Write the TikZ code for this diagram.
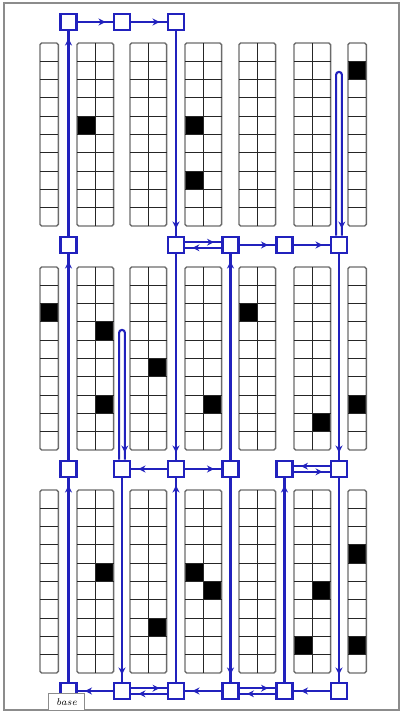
\documentclass[tikz,border=0pt]{standalone}
\usepackage{tikz}
\usetikzlibrary{arrows.meta,decorations.markings}
\definecolor{routeblue}{rgb}{0.13,0.13,0.74}
\definecolor{framegray}{gray}{0.55}
\definecolor{rackgray}{gray}{0.42}
\tikzset{
  waypt/.style={rectangle,draw=routeblue,line width=1.8pt,fill=white,
                minimum size=11.6pt,inner sep=0pt},
  aisle/.style={routeblue,line width=1.5pt,postaction={decorate},
                decoration={markings,
                  mark=at position -5pt with {\arrow{Stealth[length=5pt,width=5pt]}}}},
  rackbox/.style={draw=rackgray,line width=1pt,rounded corners=1.2pt},
  rackline/.style={draw=black!85,line width=0.8pt},
  fullcell/.style={fill=black},
  baselbl/.style={draw=framegray,fill=white,line width=0.6pt,font=\scriptsize\itshape,
                  minimum width=26pt,minimum height=12pt,inner sep=0pt},
}

\begin{document}
\begin{tikzpicture}[x=0.025cm,y=-0.025cm]
  \useasboundingbox (0,0) rectangle (401,715);
  \draw[framegray,line width=1pt] (4,3) rectangle (399,710);

  % occupied slots
  \foreach \cx/\cy/\r in {77/43/4,185/43/4,185/43/7,348/43/1,
      40/267/2,95.3/267/3,95.3/267/7,148.3/267/5,203.3/267/7,239/267/2,312.3/267/8,348/267/7,
      95.3/490/4,148.3/490/7,185/490/4,203.3/490/5,312.3/490/5,294/490/8,348/490/3,348/490/8}
    \fill[fullcell] (\cx,\cy+\r*18.3) rectangle ++(18.3,18.3);

  % racks
  \foreach \bx/\nc in {40/1,77/2,130/2,185/2,239/2,294/2,348/1}
    \foreach \by in {43,267,490} {
      \draw[rackbox] (\bx,\by) rectangle ++(\nc*18.3,183);
      \foreach \r in {1,...,9}
        \draw[rackline] (\bx,\by+\r*18.3) -- ++(\nc*18.3,0);
      \ifnum\nc=2 \draw[rackline] (\bx+18.3,\by) -- ++(0,183); \fi
    }

  % waypoints
  \node[waypt] (a1) at (68.5,22) {};
  \node[waypt] (b1) at (122,22) {};
  \node[waypt] (c1) at (176,22) {};
  \node[waypt] (a2) at (68.5,245) {};
  \node[waypt] (c2) at (176,245) {};
  \node[waypt] (d2) at (230.5,245) {};
  \node[waypt] (e2) at (284.5,245) {};
  \node[waypt] (f2) at (339,245) {};
  \foreach \n/\x in {a/68.5,b/122,c/176,d/230.5,e/284.5,f/339} {
    \node[waypt] (\n3) at (\x,469) {};
    \node[waypt] (\n4) at (\x,691) {};
  }
  \node[baselbl] (base) at (66.5,702) {base};
  \coordinate (f2top) at (339,72);
  \coordinate (b3top) at (122,330);

  % route
  \draw[aisle] (a4) -- (a3);
  \draw[aisle] (a3) -- (a2);
  \draw[aisle] (a2) -- (a1);
  \draw[aisle] (a1) -- (b1);
  \draw[aisle] (b1) -- (c1);
  \draw[aisle] (c1) -- (c2);
  \draw[aisle] ([yshift=2pt]c2.east) -- ([yshift=2pt]d2.west);
  \draw[aisle] ([yshift=-2pt]d2.west) -- ([yshift=-2pt]c2.east);
  \draw[aisle] (d2) -- (e2);
  \draw[aisle] (e2) -- (f2);
  \draw[aisle,rounded corners=1.8pt] ([xshift=-2pt]f2.north) -- ([xshift=-2pt]f2top)
    -- ([xshift=2pt]f2top) -- ([xshift=2pt]f2.north);
  \draw[aisle] (f2) -- (f3);
  \draw[aisle] (c2) -- (c3);
  \draw[aisle] (d3) -- (d2);
  \draw[aisle] (c3) -- (b3);
  \draw[aisle] (c3) -- (d3);
  \draw[aisle,rounded corners=1.8pt] ([xshift=-2pt]b3.north) -- ([xshift=-2pt]b3top)
    -- ([xshift=2pt]b3top) -- ([xshift=2pt]b3.north);
  \draw[aisle] (b3) -- (b4);
  \draw[aisle] (c4) -- (c3);
  \draw[aisle] (d3) -- (d4);
  \draw[aisle] ([yshift=2pt]f3.west) -- ([yshift=2pt]e3.east);
  \draw[aisle] ([yshift=-2pt]e3.east) -- ([yshift=-2pt]f3.west);
  \draw[aisle] (e4) -- (e3);
  \draw[aisle] (f3) -- (f4);
  \draw[aisle] (f4) -- (e4);
  \draw[aisle] ([yshift=2pt]d4.east) -- ([yshift=2pt]e4.west);
  \draw[aisle] ([yshift=-2pt]e4.west) -- ([yshift=-2pt]d4.east);
  \draw[aisle] (d4) -- (c4);
  \draw[aisle] ([yshift=2pt]b4.east) -- ([yshift=2pt]c4.west);
  \draw[aisle] ([yshift=-2pt]c4.west) -- ([yshift=-2pt]b4.east);
  \draw[aisle] (b4) -- (a4);
\end{tikzpicture}
\end{document}
